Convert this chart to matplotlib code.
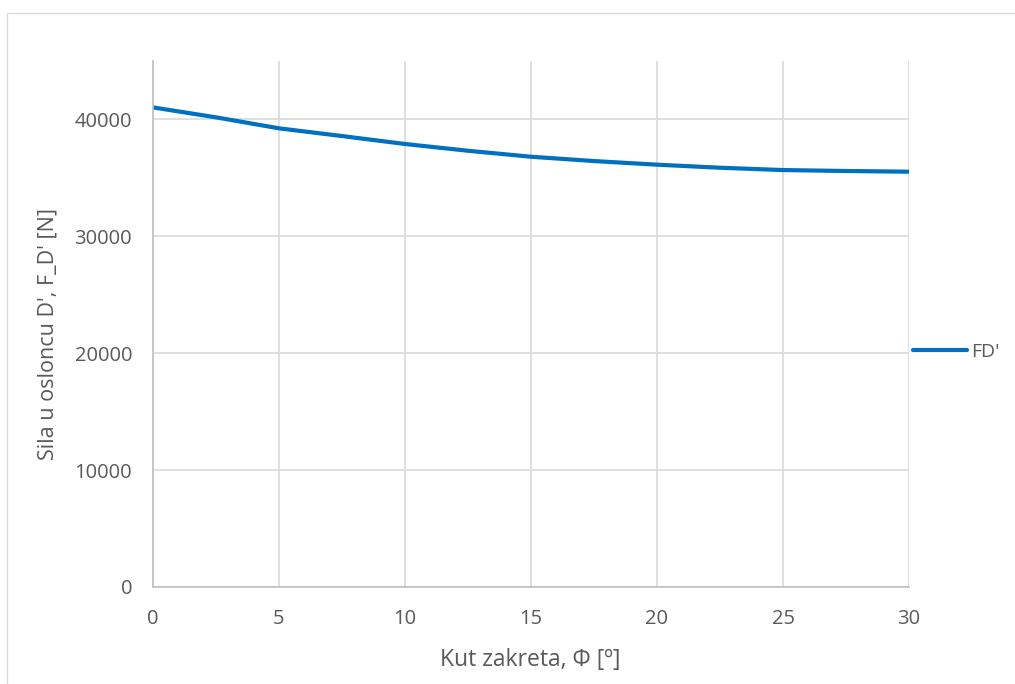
import matplotlib
matplotlib.use("Agg")
import matplotlib.pyplot as plt
from matplotlib.lines import Line2D
from matplotlib.patches import Rectangle

angle = [0, 2.5, 5, 7.5, 10, 12.5, 15, 17.5, 20, 22.5, 25, 27.5, 30]
force = [41030, 40180, 39240, 38580, 37900, 37320, 36810, 36440, 36130, 35870, 35670, 35590, 35530]
yticks = [0, 10000, 20000, 30000, 40000]
xticks = [0, 5, 10, 15, 20, 25, 30]

plt.rcParams['font.family'] = ['Open Sans', 'DejaVu Sans']
W, H = 1015, 684
fig = plt.figure(figsize=(W / 100, H / 100), dpi=100)
fig.patch.set_facecolor('white')

# chart border
fig.add_artist(Rectangle((7 / W, -0.01), 1.05, (H - 13) / H + 0.01, transform=fig.transFigure,
                         fill=False, edgecolor='#d9d9d9', linewidth=1.0))

x0, x1, ytop, ybot = 153, 909, 61, 587
ax = fig.add_axes([x0 / W, 1 - ybot / H, (x1 - x0) / W, (ybot - ytop) / H])
ax.plot(angle, force, color='#0070c0', linewidth=3.0, solid_capstyle='round', label="FD'")
ax.set_xlim(0, 30)
ax.set_ylim(0, 45000)
ax.set_xticks(xticks)
ax.set_yticks(yticks)
ax.grid(True, color='#d9d9d9', linewidth=1.2)
ax.set_axisbelow(True)
for s in ['top', 'right']:
    ax.spines[s].set_visible(False)
for s in ['left', 'bottom']:
    ax.spines[s].set_color('#bfbfbf')
    ax.spines[s].set_linewidth(1.2)
ax.tick_params(length=0, labelsize=14.5, labelcolor='#595959')
ax.tick_params(axis='x', pad=16)
ax.tick_params(axis='y', pad=15)
ax.set_xlabel('Kut zakreta, Φ [º]', fontsize=16.5, color='#595959')
ax.set_ylabel("Sila u osloncu D', F_D' [N]", fontsize=15.5, color='#595959')
ax.xaxis.label.set_va('center')
ax.yaxis.label.set_va('center')
ax.xaxis.set_label_coords((530 - x0) / (x1 - x0), (ybot - 660) / (ybot - ytop))
ax.yaxis.set_label_coords((48 - x0) / (x1 - x0), (ybot - 334) / (ybot - ytop))

leg = fig.legend(handles=[Line2D([0], [0], color='#0070c0', linewidth=3.0, solid_capstyle='round')],
                 labels=["FD'"], loc='center left', bbox_to_anchor=(913 / W, 1 - 352 / H),
                 frameon=False, fontsize=14, handlelength=2.8, handletextpad=0.2, borderaxespad=0,
                 borderpad=0)
for t in leg.get_texts():
    t.set_color('#595959')

fig.savefig('out.png', dpi=100)
